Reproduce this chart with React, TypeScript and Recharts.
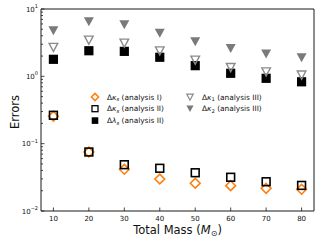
import { ReferenceLine, Scatter, ScatterChart, XAxis, YAxis } from "recharts";

// total mass (M_sun) for every run
const masses = [10, 20, 30, 40, 50, 60, 70, 80];

// errors
const kappaSAnalysisI = [0.255, 0.075, 0.0416, 0.0299, 0.0258, 0.0238, 0.0217, 0.021];
const kappaSAnalysisII = [0.264, 0.0752, 0.0487, 0.0431, 0.037, 0.0317, 0.0272, 0.024];
const lambdaSAnalysisII = [1.79, 2.4, 2.35, 1.92, 1.44, 1.11, 0.935, 0.83];
const kappa1AnalysisIII = [2.7, 3.47, 3.13, 2.4, 1.75, 1.36, 1.17, 1.05];
const kappa2AnalysisIII = [4.76, 6.48, 5.85, 4.36, 3.27, 2.58, 2.15, 1.89];

const xTicks = [10, 20, 30, 40, 50, 60, 70, 80];
const yMajorTicks = [0.01, 0.1, 1, 10];
const yMinorTicks = [
  0.02, 0.03, 0.04, 0.05, 0.06, 0.07, 0.08, 0.09,
  0.2, 0.3, 0.4, 0.5, 0.6, 0.7, 0.8, 0.9,
  2, 3, 4, 5, 6, 7, 8, 9,
];

const FONT = "DejaVu Sans, sans-serif";
const ORANGE = "#ff7f0e";
const GREY = "#7a7a7a";
const AXIS = "#1a1a1a";

const toPoints = (ys: number[]) => masses.map((x, i) => ({ x, y: ys[i] }));

type ShapeProps = { cx?: number; cy?: number };

const Diamond = ({ cx = 0, cy = 0, r = 4.9, w = 1.6 }: ShapeProps & { r?: number; w?: number }) => (
  <path
    d={`M${cx},${cy - r}L${cx + r},${cy}L${cx},${cy + r}L${cx - r},${cy}Z`}
    fill="none"
    stroke={ORANGE}
    strokeWidth={w}
  />
);

const OpenSquare = ({ cx = 0, cy = 0, h = 3.9, w = 1.6 }: ShapeProps & { h?: number; w?: number }) => (
  <rect x={cx - h} y={cy - h} width={h * 2} height={h * 2} fill="none" stroke="#000" strokeWidth={w} />
);

const FilledSquare = ({ cx = 0, cy = 0, h = 4.6 }: ShapeProps & { h?: number }) => (
  <rect x={cx - h} y={cy - h} width={h * 2} height={h * 2} fill="#000" />
);

const OpenTriangle = ({ cx = 0, cy = 0, h = 4.3, w = 1.4 }: ShapeProps & { h?: number; w?: number }) => (
  <path
    d={`M${cx - h},${cy - h * 0.9}L${cx + h},${cy - h * 0.9}L${cx},${cy + h}Z`}
    fill="none"
    stroke="#8a8a8a"
    strokeWidth={w}
    strokeLinejoin="miter"
  />
);

const FilledTriangle = ({ cx = 0, cy = 0, h = 5 }: ShapeProps & { h?: number }) => (
  <path d={`M${cx - h},${cy - h * 0.9}L${cx + h},${cy - h * 0.9}L${cx},${cy + h * 0.9}Z`} fill={GREY} />
);

// ticks point inward, like matplotlib's direction="in"
function XTick({ x, y, payload }: any) {
  return (
    <g>
      <line x1={x} x2={x} y1={y} y2={y - 3.5} stroke={AXIS} strokeWidth={0.8} />
      <text x={x} y={y + 10} textAnchor="middle" fontSize={7} fontFamily={FONT} fill="#111">
        {payload.value}
      </text>
    </g>
  );
}

function YTick({ x, y, payload }: any) {
  const lg = Math.log10(payload.value);
  const exp = Math.round(lg);
  const major = Math.abs(lg - exp) < 1e-6;
  return (
    <g>
      <line x1={x} x2={x + (major ? 3.5 : 2)} y1={y} y2={y} stroke={AXIS} strokeWidth={0.8} />
      {major && (
        <text x={x - 3} y={y + 2.5} textAnchor="end" fontSize={7} fontFamily={FONT} fill="#111">
          10
          <tspan dy={-3.5} fontSize={5}>
            {exp < 0 ? `\u2212${-exp}` : exp}
          </tspan>
        </text>
      )}
    </g>
  );
}

function LegendLabel({ x, y, sym, sub, note }: { x: number; y: number; sym: string; sub: string; note: string }) {
  return (
    <text x={x} y={y + 2.6} fontSize={7.4} fontFamily={FONT} fill="#111">
      Δ<tspan fontStyle="italic">{sym}</tspan>
      <tspan dy={1.6} fontSize={5.3} fontStyle={sub === "s" ? "italic" : "normal"}>
        {sub}
      </tspan>
      <tspan dy={-1.6}> ({note})</tspan>
    </text>
  );
}

export default function App() {
  return (
    <div style={{ position: "absolute", left: 0, top: 0, width: 319, height: 242 }}>
      <ScatterChart width={319} height={242} margin={{ top: 9, right: 5, bottom: 0, left: 0 }}>
        <XAxis
          type="number"
          dataKey="x"
          domain={[6.5, 83.5]}
          ticks={xTicks}
          interval={0}
          height={31}
          tickSize={0}
          tickMargin={0}
          tickLine={false}
          tick={<XTick />}
          axisLine={{ stroke: AXIS, strokeWidth: 1 }}
          label={({ viewBox }: any) => (
            <text
              x={viewBox.x + viewBox.width / 2}
              y={viewBox.y + 22.5}
              textAnchor="middle"
              fontSize={11.5}
              fontFamily={FONT}
              fill="#111"
            >
              Total Mass (<tspan fontStyle="italic">M</tspan>
              <tspan dy={2} fontSize={8}>⊙</tspan>
              <tspan dy={-2}>)</tspan>
            </text>
          )}
        />
        <YAxis
          type="number"
          dataKey="y"
          scale="log"
          domain={[0.01, 10]}
          allowDataOverflow
          ticks={[...yMajorTicks, ...yMinorTicks]}
          interval={0}
          width={41}
          tickSize={0}
          tickMargin={0}
          tickLine={false}
          tick={<YTick />}
          axisLine={{ stroke: AXIS, strokeWidth: 1 }}
          label={({ viewBox }: any) => {
            const cx = viewBox.x + 18.5;
            const cy = viewBox.y + viewBox.height / 2 + 2;
            return (
              <text
                x={cx}
                y={cy}
                transform={`rotate(-90 ${cx} ${cy})`}
                textAnchor="middle"
                fontSize={11.5}
                fontFamily={FONT}
                fill="#111"
              >
                Errors
              </text>
            );
          }}
        />
        <ReferenceLine y={10} stroke={AXIS} strokeWidth={1} />
        <ReferenceLine x={83.5} stroke={AXIS} strokeWidth={1} />
        <Scatter data={toPoints(kappaSAnalysisI)} shape={<Diamond />} isAnimationActive={false} />
        <Scatter data={toPoints(kappaSAnalysisII)} shape={<OpenSquare />} isAnimationActive={false} />
        <Scatter data={toPoints(lambdaSAnalysisII)} shape={<FilledSquare />} isAnimationActive={false} />
        <Scatter data={toPoints(kappa1AnalysisIII)} shape={<OpenTriangle />} isAnimationActive={false} />
        <Scatter data={toPoints(kappa2AnalysisIII)} shape={<FilledTriangle />} isAnimationActive={false} />
      </ScatterChart>

      {/* legend, two columns inside the plot */}
      <svg width={319} height={242} style={{ position: "absolute", left: 0, top: 0, pointerEvents: "none" }}>
        <Diamond cx={95} cy={97} r={3.6} w={1.5} />
        <LegendLabel x={107} y={97} sym="κ" sub="s" note="analysis I" />
        <OpenSquare cx={95} cy={108.7} h={3} w={1.3} />
        <LegendLabel x={107} y={108.7} sym="κ" sub="s" note="analysis II" />
        <FilledSquare cx={95} cy={120.6} h={3.3} />
        <LegendLabel x={107} y={120.6} sym="λ" sub="s" note="analysis II" />
        <OpenTriangle cx={190} cy={97} h={3.2} w={1.2} />
        <LegendLabel x={202} y={97} sym="κ" sub="1" note="analysis III" />
        <FilledTriangle cx={190} cy={108.7} h={3.6} />
        <LegendLabel x={202} y={108.7} sym="κ" sub="2" note="analysis III" />
      </svg>
    </div>
  );
}
